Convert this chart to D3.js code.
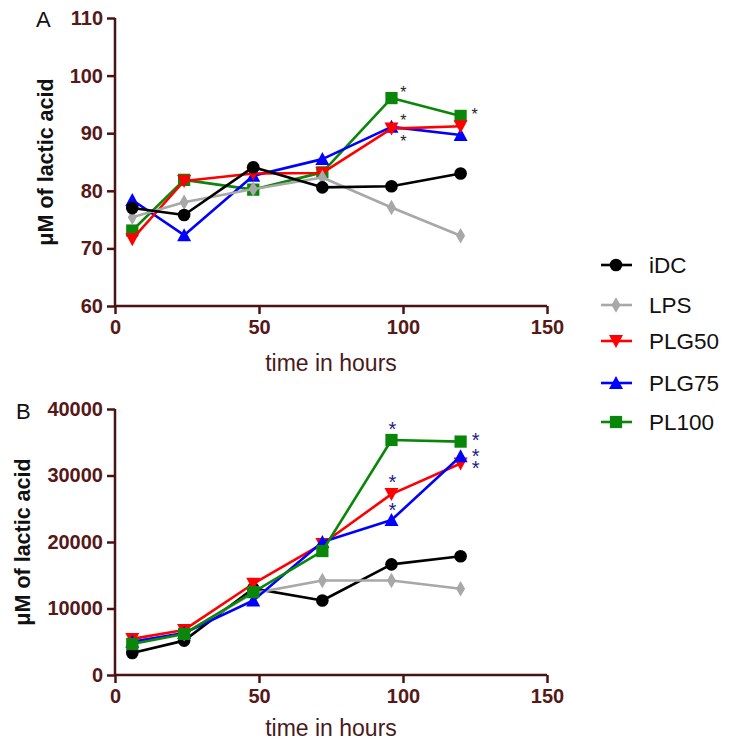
<!DOCTYPE html>
<html><head><meta charset="utf-8">
<script src="https://cdn.jsdelivr.net/npm/d3@7"></script>
<style>body{margin:0;background:#fff}svg{display:block}</style>
</head><body>
<script>
const hours = [6, 24, 48, 72, 96, 120];
const seriesNames = ["iDC", "LPS", "PLG50", "PLG75", "PL100"];
// Panel A values (µM lactic acid)
const aIDC   = [77.0, 75.8, 84.1, 80.6, 80.8, 83.0];
const aLPS   = [75.4, 78.0, 80.3, 82.3, 77.1, 72.2];
const aPLG50 = [71.6, 81.7, 83.0, 83.1, 90.8, 91.2];
const aPLG75 = [78.4, 72.3, 82.6, 85.5, 91.1, 89.7];
const aPL100 = [73.1, 81.9, 80.2, 83.2, 96.1, 93.0];
// Panel B values
const bIDC   = [3320, 5170, 13000, 11200, 16640, 17850];
const bLPS   = [5000, 6200, 12300, 14220, 14220, 12970];
const bPLG50 = [5430, 6780, 13720, 19700, 27200, 31800];
const bPLG75 = [5000, 6300, 11200, 20000, 23300, 32900];
const bPL100 = [4670, 6180, 12460, 18640, 35340, 35100];
const aYTicks = [60, 70, 80, 90, 100, 110];
const bYTicks = [0, 10000, 20000, 30000, 40000];
const xTicks = [0, 50, 100, 150];
// significance stars: [series index, hour index]
const aStars = [[4, 4], [3, 4], [2, 4], [4, 5]];
const bStars = [[4, 4], [2, 4], [3, 4], [4, 5], [3, 5], [2, 5]];

const colors = ["#000000", "#a8a8a8", "#ff0000", "#0000ff", "#0a870a"];
const symbols = [d3.symbolCircle, d3.symbolDiamond, "down", "up", d3.symbolSquare];
const axisColor = "#4a1212";
const labelColor = "#561818";
const FONT = "Liberation Sans, Arial, sans-serif";

const svg = d3.select("body").append("svg").attr("width", 730).attr("height", 745);

function marker(g, i, x, y) {
  const sym = symbols[i];
  let path;
  if (sym === "down") {
    path = `M${x - 7},${y - 6}L${x + 7},${y - 6}L${x},${y + 7}Z`;
  } else if (sym === "up") {
    path = `M${x - 7},${y + 6}L${x + 7},${y + 6}L${x},${y - 7}Z`;
  } else {
    const size = sym === d3.symbolCircle ? 125 : sym === d3.symbolSquare ? 150 : 70;
    path = d3.symbol().type(sym).size(size)();
    g.append("path").attr("d", path).attr("transform", `translate(${x},${y})`).attr("fill", colors[i]);
    return;
  }
  g.append("path").attr("d", path).attr("fill", colors[i]);
}

function panel(opts) {
  const g = svg.append("g");
  const x = d3.scaleLinear().domain([0, 150]).range([115, 547]);
  const y = d3.scaleLinear().domain(opts.yDomain).range(opts.yRange);

  const yAxis = d3.axisLeft(y).tickValues(opts.yTicks).tickSize(8).tickPadding(4).tickFormat(d3.format("d"));
  const xAxis = d3.axisBottom(x).tickValues(xTicks).tickSize(8).tickPadding(6).tickFormat(d3.format("d"));
  const ya = g.append("g").attr("transform", `translate(115,0)`).call(yAxis);
  const xa = g.append("g").attr("transform", `translate(0,${opts.yRange[0]})`).call(xAxis);
  [ya, xa].forEach(a => {
    a.select(".domain").attr("stroke", axisColor).attr("stroke-width", 2.5);
    a.selectAll(".tick line").attr("stroke", axisColor).attr("stroke-width", 2.5);
    a.selectAll(".tick text").attr("fill", labelColor)
      .style("font-family", FONT).style("font-size", "20px").style("font-weight", "bold");
  });
  ya.select(".domain").attr("d", `M0,${opts.yRange[0]}V${opts.yRange[1]}`);
  xa.select(".domain").attr("d", `M115,0H547`);

  g.append("text").attr("x", 331).attr("y", opts.xTitleY).attr("text-anchor", "middle")
    .attr("fill", "#4a1a1a").style("font-family", FONT)
    .style("font-size", "23px").text("time in hours");
  const cy = (opts.yRange[0] + opts.yRange[1]) / 2;
  g.append("text").attr("transform", `translate(${opts.yTitleX},${cy}) rotate(-90)`)
    .attr("text-anchor", "middle").attr("dy", "0.35em")
    .attr("fill", "#111").style("font-family", FONT)
    .style("font-size", "21.5px").style("font-weight", "bold").text("\u03bcM of lactic acid");
  g.append("text").attr("x", opts.letterX).attr("y", opts.letterY)
    .attr("fill", "#111").style("font-family", FONT)
    .style("font-size", "22px").text(opts.letter);

  const line = d3.line().x((d, j) => x(hours[j])).y(d => y(d));
  opts.order.forEach(i => {
    const vals = opts.data[i];
    g.append("path").datum(vals).attr("d", line).attr("fill", "none")
      .attr("stroke", colors[i]).attr("stroke-width", 2.6).attr("stroke-linejoin", "round");
    vals.forEach((v, j) => marker(g, i, x(hours[j]), y(v)));
  });

  opts.stars.forEach(([i, j], k) => {
    const off = opts.starOffsets[k];
    g.append("text").attr("x", x(hours[j]) + off[0]).attr("y", y(opts.data[i][j]) + off[1])
      .attr("text-anchor", "middle").attr("fill", opts.starColor)
      .style("font-family", FONT).style("font-size", opts.starSize).text("*");
  });
}

panel({
  yDomain: [60, 110], yRange: [306, 18], yTicks: aYTicks,
  data: [aIDC, aLPS, aPLG50, aPLG75, aPL100], order: [4, 3, 2, 1, 0],
  xTitleY: 371, yTitleX: 45, letter: "A", letterX: 36, letterY: 27,
  stars: aStars, starOffsets: [[12, 0], [12, -1], [12, 18], [14, 4]],
  starColor: "#222", starSize: "16px"
});
panel({
  yDomain: [0, 40000], yRange: [675, 409], yTicks: bYTicks,
  data: [bIDC, bLPS, bPLG50, bPLG75, bPL100], order: [0, 1, 2, 3, 4],
  xTitleY: 736, yTitleX: 22, letter: "B", letterX: 16, letterY: 419,
  stars: bStars, starOffsets: [[1, -4], [1, -5], [1, -3], [15, 5], [15, 7], [15, 11]],
  starColor: "#1a1a8a", starSize: "20px"
});

const leg = svg.append("g");
const legY = [265, 305, 341, 383, 422];
seriesNames.forEach((name, i) => {
  leg.append("line").attr("x1", 601).attr("x2", 632).attr("y1", legY[i]).attr("y2", legY[i])
    .attr("stroke", colors[i]).attr("stroke-width", 2.6);
  marker(leg, i, 616, legY[i]);
  leg.append("text").attr("x", 649).attr("y", legY[i]).attr("dy", "0.35em")
    .attr("fill", "#111").style("font-family", FONT)
    .style("font-size", "22.5px").text(name);
});
</script>
</body></html>
